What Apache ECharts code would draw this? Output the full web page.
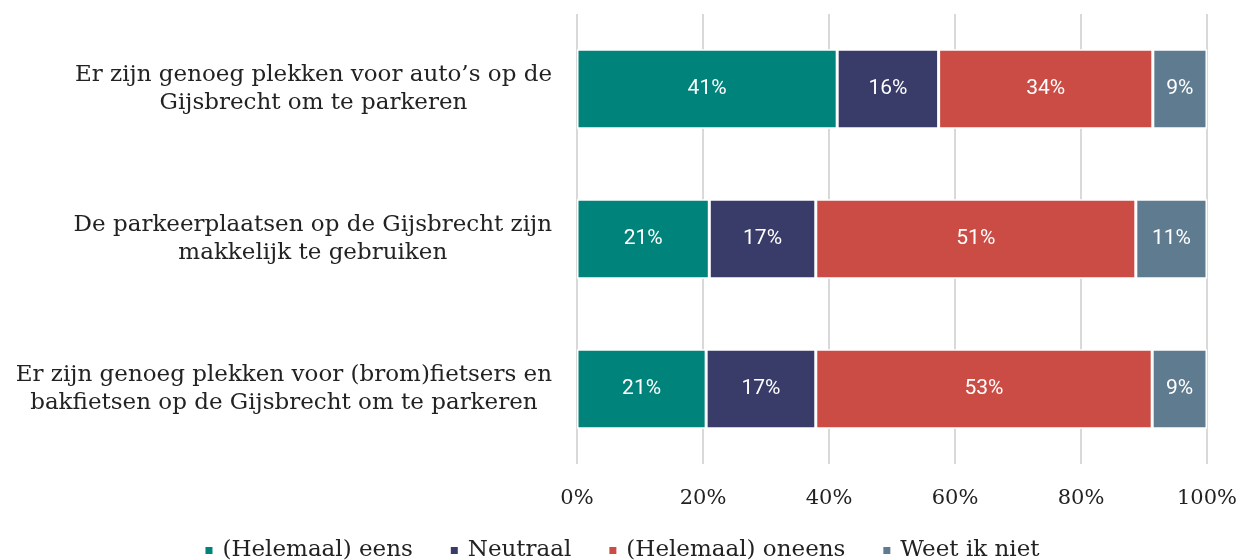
<!DOCTYPE html>
<html><head><meta charset="utf-8">
<script src="https://cdn.jsdelivr.net/npm/echarts@6/dist/echarts.min.js"></script>
<style>html,body{margin:0;padding:0;background:#fff}#c{width:1243px;height:560px}</style>
</head><body><div id="c"></div>
<script>
const categories = [
  ["Er zijn genoeg plekken voor auto’s op de", "Gijsbrecht om te parkeren"],
  ["De parkeerplaatsen op de Gijsbrecht zijn", "makkelijk te gebruiken"],
  ["Er zijn genoeg plekken voor (brom)fietsers en", "bakfietsen op de Gijsbrecht om te parkeren"]
];
const seriesNames = ["(Helemaal) eens", "Neutraal", "(Helemaal) oneens", "Weet ik niet"];
const eens    = [41.3, 21.0, 20.5];
const neutraal = [16.1, 16.9, 17.4];
const oneens  = [34.0, 50.8, 53.4];
const weetNiet = [8.6, 11.3, 8.7];
const xTicks = [0, 20, 40, 60, 80, 100];
const colors = ["#00837a", "#393b69", "#cb4c44", "#5f7b8f"];

const values = [eens, neutraal, oneens, weetNiet];
const chart = echarts.init(document.getElementById('c'), null, {renderer: 'canvas'});
chart.setOption({
  animation: false,
  color: colors,
  grid: {left: 577, right: 36, top: 14, bottom: 96, containLabel: false},
  legend: {
    top: 534, left: 'center', icon: 'rect', itemWidth: 9, itemHeight: 9, itemGap: 36, itemPadding: 0,
    textStyle: {fontFamily: 'DejaVu Serif', fontSize: 23, color: '#222', padding: [0, 0, 0, 4]},
    data: seriesNames
  },
  xAxis: {
    type: 'value', min: xTicks[0], max: xTicks[xTicks.length - 1], interval: 20,
    axisLine: {show: false}, axisTick: {show: false},
    splitLine: {show: true, lineStyle: {color: '#d9d9d9', width: 2}},
    axisLabel: {formatter: v => v + '%', margin: 24, fontFamily: 'DejaVu Serif', fontSize: 21, color: '#222'}
  },
  yAxis: {
    type: 'category', inverse: true,
    data: categories.map(c => c.join('\n')),
    axisLine: {show: false}, axisTick: {show: false},
    axisLabel: {
      margin: 25, align: 'right',
      formatter: v => v.split('\n').map(l => '{c|' + l + '}').join('\n'),
      rich: {c: {align: 'center', fontFamily: 'DejaVu Serif', fontSize: 23, color: '#222', lineHeight: 28}}
    }
  },
  series: seriesNames.map((n, i) => ({
    name: n, type: 'bar', stack: 'total', barWidth: '53%',
    data: values[i],
    itemStyle: {borderColor: '#fff', borderWidth: 1.5},
    label: {show: true, position: 'inside', color: '#fff', fontFamily: 'Roboto', fontWeight: 'normal', fontSize: 21,
      formatter: p => Math.round(p.value) + '%'}
  }))
});
</script></body></html>
